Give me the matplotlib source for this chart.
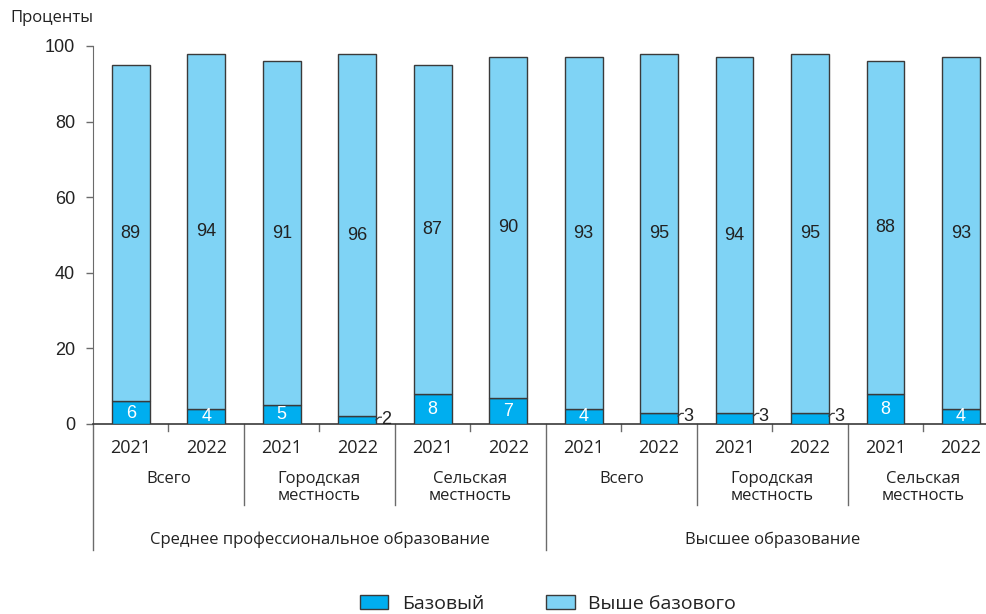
import matplotlib
matplotlib.use("Agg")
import matplotlib.pyplot as plt
from matplotlib.patches import Patch

years = ["2021", "2022"] * 6
areas = ["Всего", "Городская\nместность", "Сельская\nместность"] * 2
levels = ["Среднее профессиональное образование", "Высшее образование"]
base = [6, 4, 5, 2, 8, 7, 4, 3, 3, 3, 8, 4]
above = [89, 94, 91, 96, 87, 90, 93, 95, 94, 95, 88, 93]
yticks = [0, 20, 40, 60, 80, 100]

C_BASE = "#00aeef"
C_ABOVE = "#7fd3f5"
EDGE = "#3a3a3a"
LINE = "#6b6b6b"
TXT = "#222222"

plt.rcParams["font.family"] = ["Open Sans", "DejaVu Sans"]

fig = plt.figure(figsize=(9.87, 6.14), dpi=100)
W, H = 987, 614
ax_l, ax_r, ax_t, ax_b = 93, 987, 46, 424
ax = fig.add_axes([ax_l / W, (H - ax_b) / H, (ax_r - ax_l) / W, (ax_b - ax_t) / H])

x = list(range(len(base)))
bw = 0.5
ax.bar(x, base, width=bw, color=C_BASE, edgecolor=EDGE, linewidth=1.0, zorder=3)
ax.bar(x, above, width=bw, bottom=base, color=C_ABOVE, edgecolor=EDGE,
       linewidth=1.0, zorder=3)

num_font = dict(family=["Liberation Sans", "DejaVu Sans"], fontsize=13)
for i, (b, a) in enumerate(zip(base, above)):
    ax.text(i, b + a / 2, str(a), ha="center", va="center", color=TXT, **num_font)
    if b >= 4:
        ax.text(i, b / 2 - 0.1, str(b), ha="center", va="center", color="white",
                zorder=4, **num_font)
    else:
        xr = i + bw / 2
        ax.plot([xr, xr + 0.04, xr + 0.07], [b - 0.9, b - 0.2, b - 0.2], color=EDGE,
                lw=0.9, zorder=4, clip_on=False)
        ax.text(xr + 0.07, b - 0.9, str(b), ha="left", va="center", color=TXT,
                **num_font)

xmax = 11.5 - (998.8 - 987) / 75.5
ax.set_xlim(-0.5, xmax)
ax.set_ylim(0, 100)
ax.set_yticks(yticks)
ax.set_yticklabels([str(v) for v in yticks], fontfamily=["Liberation Sans"],
                   fontsize=13, color=TXT)
ax.tick_params(axis="y", length=5, width=1, color=LINE, pad=8)
ax.set_xticks([])
for s in ["top", "right"]:
    ax.spines[s].set_visible(False)
ax.spines["left"].set_color(LINE)
ax.spines["bottom"].set_color(EDGE)
ax.spines["bottom"].set_linewidth(1.2)

tr = ax.get_xaxis_transform()
px = 1.0 / (ax_b - ax_t)

def yfrac(ypix):
    return (ax_b - ypix) * px

# left spine continued below the axis
ax.plot([-0.5, -0.5], [0, yfrac(550)], transform=tr, color=LINE, lw=1, clip_on=False)
# short ticks between years
for xv in [0.5, 2.5, 4.5, 6.5, 8.5, 10.5]:
    ax.plot([xv, xv], [0, yfrac(431)], transform=tr, color=LINE, lw=1, clip_on=False)
# separators between areas
for xv in [1.5, 3.5, 7.5, 9.5]:
    ax.plot([xv, xv], [0, yfrac(505)], transform=tr, color=LINE, lw=1, clip_on=False)
# separator between education levels
ax.plot([5.5, 5.5], [0, yfrac(550)], transform=tr, color=LINE, lw=1, clip_on=False)

lab_font = dict(fontsize=12, color=TXT)
for i, yr in enumerate(years):
    ax.text(i, yfrac(448), yr, transform=tr, ha="center", va="center",
            fontsize=13, color=TXT)
for k, name in enumerate(areas):
    ax.text(2 * k + 0.5, yfrac(471), name, transform=tr, ha="center", va="top",
            linespacing=1.05, **lab_font)
for k, name in enumerate(levels):
    ax.text(6 * k + 2.5, yfrac(540), name, transform=tr, ha="center", va="center",
            **lab_font)

fig.text(10 / W, 1 - 18 / H, "Проценты", ha="left", va="center", **lab_font)

handles = [Patch(facecolor=C_BASE, edgecolor=EDGE, label="Базовый"),
           Patch(facecolor=C_ABOVE, edgecolor=EDGE, label="Выше базового")]
fig.legend(handles=handles, loc="center", bbox_to_anchor=(548 / W, 1 - 604 / H),
           ncol=2, frameon=False, fontsize=14, handlelength=1.45, handleheight=0.75,
           columnspacing=3.2, handletextpad=0.7, labelcolor=TXT)

fig.savefig("out.png", dpi=100)
